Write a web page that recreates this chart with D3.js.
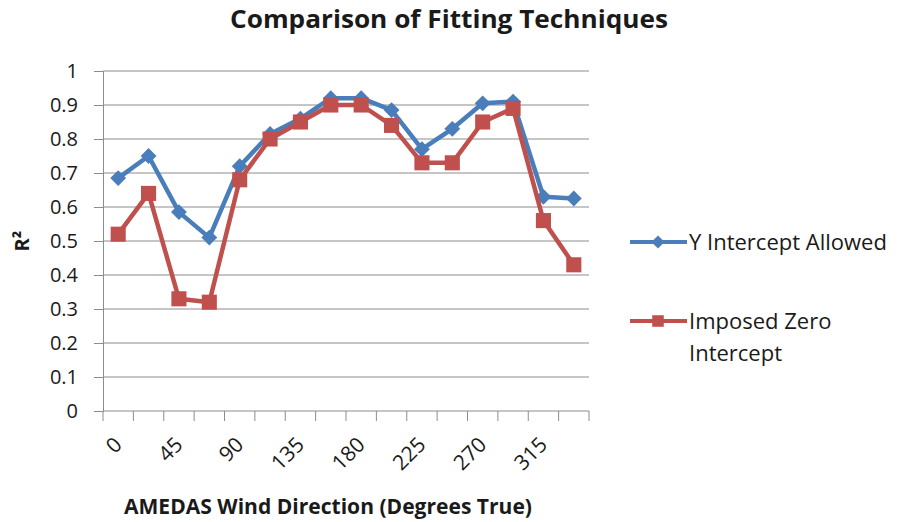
<!DOCTYPE html>
<html>
<head>
<meta charset="utf-8">
<script src="https://cdn.jsdelivr.net/npm/d3@7"></script>
<style>
  body { margin: 0; background: #fff; }
  text { font-family: "Open Sans", "Liberation Sans", sans-serif; fill: #1a1a1a; }
</style>
</head>
<body>
<div id="chart"></div>
<script>
// R² by wind direction, two fitting techniques

let directions = [ "0", "22.5", "45", "67.5", "90", "112.5", "135", "157.5",
                   "180", "202.5", "225", "247.5", "270", "292.5", "315", "337.5" ] ;
let shownLabels = [ "0", "45", "90", "135", "180", "225", "270", "315" ] ;

let interceptAllowed = [ 0.685, 0.75, 0.585, 0.51, 0.72, 0.815, 0.86, 0.92,
                         0.92, 0.885, 0.77, 0.83, 0.905, 0.91, 0.63, 0.625 ] ;
let zeroIntercept    = [ 0.52, 0.64, 0.33, 0.32, 0.68, 0.80, 0.85, 0.90,
                         0.90, 0.84, 0.73, 0.73, 0.85, 0.89, 0.56, 0.43 ] ;

let yTicks = [ 0, 0.1, 0.2, 0.3, 0.4, 0.5, 0.6, 0.7, 0.8, 0.9, 1 ] ;

let series = [
	{ name: "Y Intercept Allowed", values: interceptAllowed, color: "#4a7ebb", shape: "diamond" },
	{ name: "Imposed Zero Intercept", values: zeroIntercept, color: "#c0504d", shape: "square" }
] ;

// set the dimensions and margins of the graph
let margin = { top: 71, right: 317, bottom: 111, left: 103 } ;
let width  = 906 ;
let height = 522 ;
let plotw  = width  - margin.left - margin.right ;
let ploth  = height - margin.top  - margin.bottom ;

let svg = d3.select("#chart").append("svg")
	.attr("width", width)
	.attr("height", height) ;

let g = svg.append("g").attr("transform", "translate(" + margin.left + "," + margin.top + ")") ;

let x = d3.scaleBand().domain(directions).range([ 0, plotw ]) ;
let y = d3.scaleLinear().domain([ 0, 1 ]).range([ ploth, 0 ]) ;

// gridlines
g.append("g")
	.selectAll("line")
	.data(yTicks.slice(1))
	.join("line")
	.attr("x1", 0).attr("x2", plotw)
	.attr("y1", d => y(d)).attr("y2", d => y(d))
	.attr("stroke", "#8c8c8c").attr("stroke-width", 1) ;

// Y axis
let yAxis = g.append("g")
	.call(d3.axisLeft(y).tickValues(yTicks).tickSize(9).tickFormat(d3.format("")))
	;
yAxis.select(".domain").attr("stroke", "#8c8c8c") ;
yAxis.selectAll(".tick line").attr("stroke", "#8c8c8c") ;
yAxis.selectAll(".tick text")
	.attr("x", -25)
	.style("font-size", "20px")
	.style("font-family", "'Open Sans', sans-serif")
	.attr("fill", "#1a1a1a") ;

// X axis, ticks sit between categories
let xg = g.append("g").attr("transform", "translate(0," + ploth + ")") ;
xg.append("line")
	.attr("x1", 0).attr("x2", plotw)
	.attr("stroke", "#8c8c8c") ;
xg.selectAll(".xtick")
	.data(directions.concat([ "end" ]))
	.join("line")
	.attr("class", "xtick")
	.attr("x1", (d, i) => i * x.step()).attr("x2", (d, i) => i * x.step())
	.attr("y1", 0).attr("y2", 10)
	.attr("stroke", "#8c8c8c") ;
xg.selectAll(".xlabel")
	.data(shownLabels)
	.join("text")
	.attr("class", "xlabel")
	.attr("text-anchor", "end")
	.attr("transform", d => "translate(" + (x(d) + x.bandwidth() / 2 + 5) + ",35) rotate(-45)")
	.style("font-size", "21px")
	.text(d => d) ;

// lines and markers
let line = d3.line()
	.x((d, i) => x(directions[i]) + x.bandwidth() / 2)
	.y(d => y(d)) ;

series.forEach(s => {
	g.append("path")
		.datum(s.values)
		.attr("fill", "none")
		.attr("stroke", s.color)
		.attr("stroke-width", 4.5)
		.attr("stroke-linejoin", "round")
		.attr("d", line) ;

	let sym = s.shape === "diamond" ? d3.symbol(d3.symbolDiamond2, 160) : d3.symbol(d3.symbolSquare2, 290) ;
	g.append("g")
		.selectAll("path")
		.data(s.values)
		.join("path")
		.attr("d", sym)
		.attr("transform", (d, i) => "translate(" + (x(directions[i]) + x.bandwidth() / 2) + "," + y(d) + ")")
		.attr("fill", s.color) ;
}) ;

// title and axis titles
svg.append("text")
	.attr("x", 449).attr("y", 28)
	.attr("text-anchor", "middle")
	.style("font-size", "25px").style("font-weight", "bold")
	.attr("textLength", 438).attr("lengthAdjust", "spacingAndGlyphs")
	.text("Comparison of Fitting Techniques") ;

svg.append("text")
	.attr("x", 328).attr("y", 514)
	.attr("text-anchor", "middle")
	.style("font-size", "21px").style("font-weight", "bold")
	.attr("textLength", 408).attr("lengthAdjust", "spacingAndGlyphs")
	.text("AMEDAS Wind Direction  (Degrees True)") ;

svg.append("text")
	.attr("transform", "translate(29,241) rotate(-90)")
	.attr("text-anchor", "middle")
	.style("font-size", "20px").style("font-weight", "bold")
	.text("R²") ;

// legend
let legendRows = [
	{ s: series[0], y: 242, lines: [ "Y Intercept Allowed" ] },
	{ s: series[1], y: 321, lines: [ "Imposed Zero", "Intercept" ] }
] ;
let lg = svg.append("g") ;
legendRows.forEach(r => {
	lg.append("line")
		.attr("x1", 630).attr("x2", 687)
		.attr("y1", r.y).attr("y2", r.y)
		.attr("stroke", r.s.color).attr("stroke-width", 4) ;
	let sym = r.s.shape === "diamond" ? d3.symbol(d3.symbolDiamond2, 110) : d3.symbol(d3.symbolSquare2, 170) ;
	lg.append("path")
		.attr("d", sym)
		.attr("transform", "translate(658," + r.y + ")")
		.attr("fill", r.s.color) ;
	r.lines.forEach((t, i) => {
		lg.append("text")
			.attr("x", 689).attr("y", r.y + 8 + i * 32)
			.style("font-size", "22px")
			.text(t) ;
	}) ;
}) ;
</script>
</body>
</html>
